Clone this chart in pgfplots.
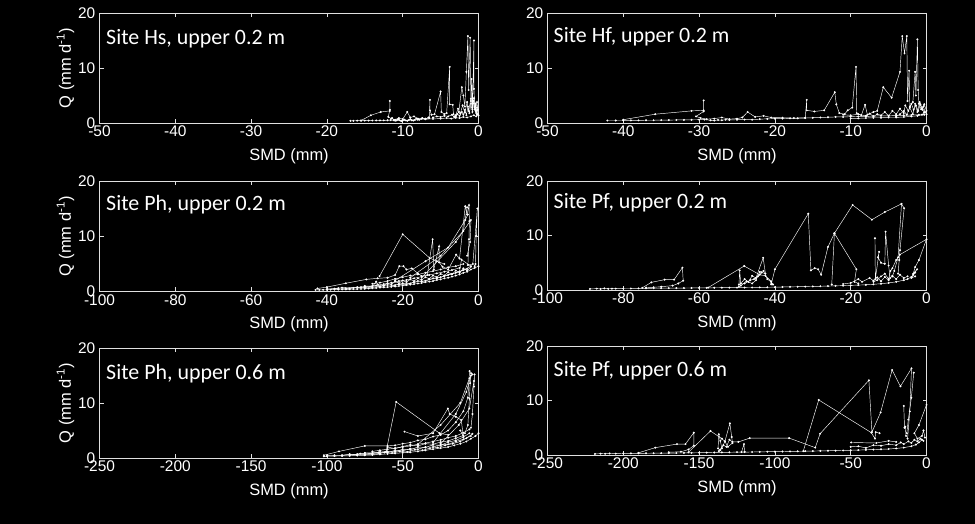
\documentclass[border=0pt]{standalone}
\usepackage{pgfplots}
\pgfplotsset{compat=1.18}
\usepackage{fontspec}
\setmainfont{Liberation Sans}
\newfontfamily\calibri{Carlito}

\pgfplotsset{
  panel/.style={
    scale only axis, width=379bp, height=110bp, anchor=south west,
    axis line style={white!88!black, line width=0.6pt},
    tick style={white!88!black, line width=0.6pt},
    major tick length=4bp,
    tick align=inside,
    ymin=0, ymax=20, ytick={0,10,20}, xmax=0,
    tick label style={text=white, font=\fontsize{15.5}{16}\selectfont},
    xticklabel style={anchor=north, inner sep=0pt, yshift=-3bp},
    yticklabel style={anchor=east, inner sep=0pt, xshift=-4bp},
    /pgf/number format/assume math mode=true,
    every axis plot post/.append style={white, solid, line width=0.45pt, mark=*, mark size=0.75pt, mark options={solid, fill=white, draw=white}},
  },
}
\tikzset{
  ttl/.style={anchor=base west, inner sep=0pt, text=white, font=\calibri\fontsize{22}{24}\selectfont},
  lbl/.style={inner sep=0pt, text=white, font=\fontsize{16.5}{18}\selectfont},
}

\begin{document}
\begin{tikzpicture}
\fill[black] (0,0) rectangle (975bp,524bp);

% ---------------- Panel 1: Hs 0.2 m
\begin{axis}[panel, name=p1, at={(99.5bp,401bp)}, xmin=-50, xtick={-50,-40,...,0}]
\addplot coordinates {(-16.9,0.40) (-16.5,0.40) (-16.0,0.42) (-15.5,0.42) (-15.0,0.43) (-14.5,0.44) (-14.0,0.45) (-13.5,0.46) (-13.0,0.47) (-12.5,0.48) (-12.0,0.50) (-11.6,0.52) (-11.2,0.50) (-10.8,0.48) (-10.4,0.50) (-10.0,0.45) (-9.6,0.48) (-9.2,0.52) (-8.8,0.50) (-8.4,0.55) (-8.0,0.60)};
\addplot coordinates {(-15.5,0.45) (-14.2,1.4) (-12.9,2.0) (-11.7,2.2) (-11.7,4.0) (-11.7,2.4) (-11.9,1.1) (-11.5,0.8) (-11.0,0.6) (-10.5,0.9) (-10.0,0.7) (-9.4,2.0) (-9.0,1.0) (-8.5,1.2) (-8.0,0.8) (-7.5,0.8) (-7.0,0.8) (-6.5,0.9) (-6.4,4.2) (-6.4,2.3) (-6.2,1.5) (-5.8,1.6) (-5.0,5.7) (-4.9,2.0) (-4.5,1.6) (-4.2,1.8) (-3.8,10.2) (-3.8,3.4) (-3.4,3.3) (-3.3,1.6) (-3.0,1.2) (-2.6,2.0) (-2.2,6.5) (-2.0,5.0) (-1.8,3.0) (-1.6,9.3) (-1.4,15.8) (-1.3,6.0) (-1.1,15.5) (-1.0,4.0) (-0.9,8.0) (-0.8,2.5) (-0.6,15.0) (-0.6,6.2) (-0.5,3.0) (-0.3,2.0) (-0.2,1.5)};
\addplot coordinates {(-6.0,1.0) (-5.5,1.2) (-5.0,1.1) (-4.5,1.3) (-4.0,1.2) (-3.5,1.5) (-3.2,1.1) (-2.8,1.6) (-2.5,1.3) (-2.2,2.0) (-2.0,1.5) (-1.8,2.4) (-1.6,1.4) (-1.4,3.0) (-1.2,1.8) (-1.0,3.5) (-0.8,2.0) (-0.7,4.0) (-0.5,2.5) (-0.4,3.5) (-0.3,1.8) (-0.2,2.8) (-0.1,1.6) (-0.3,1.2) (-0.6,1.4) (-1.0,1.2) (-1.5,1.0) (-2.0,1.1) (-2.5,0.9) (-3.0,0.95) (-3.6,0.8) (-4.2,0.9) (-5.0,0.8) (-6.0,0.75) (-7.0,0.7) (-8.0,0.65)};
\addplot coordinates {(-11.4,0.9) (-11.0,0.4) (-10.6,0.7) (-10.2,0.35) (-9.8,0.6) (-9.4,0.4) (-9.0,0.7) (-8.6,0.45) (-8.2,0.8) (-7.8,0.6) (-7.4,0.9) (-7.0,0.7) (-6.6,1.0)};
\addplot coordinates {(-3.0,1.4) (-2.7,2.6) (-2.4,1.7) (-2.1,3.2) (-1.8,1.9) (-1.5,3.8) (-1.3,2.2) (-1.0,4.4) (-0.8,2.8) (-0.6,4.5) (-0.4,2.2) (-0.2,3.8) (-0.1,2.4) (0,1.4)};
\end{axis}

% ---------------- Panel 2: Hf 0.2 m
\begin{axis}[panel, name=p2, at={(547.5bp,401bp)}, xmin=-50, xtick={-50,-40,...,0}]
\addplot coordinates {(-42.1,0.45) (-41,0.45) (-40,0.46) (-39,0.47) (-38,0.48) (-37,0.5) (-36,0.5) (-35,0.52) (-34,0.53) (-33,0.55) (-32,0.56) (-31,0.58) (-30,0.6) (-29.3,0.62) (-28.5,0.5) (-28,0.45) (-27.5,0.55) (-27,0.5) (-26.5,0.6) (-26,0.55) (-25,0.6) (-24,0.62) (-23,0.6) (-22,0.7) (-21,0.75) (-20,0.8) (-19,0.8) (-18,0.85) (-17,0.85) (-16,0.9) (-15,0.95) (-14,1.0) (-13,1.05) (-12,1.1) (-11,1.1) (-10,1.15) (-9,1.2) (-8,1.2) (-7,1.25) (-6,1.3) (-5,1.3) (-4,1.35) (-3,1.4) (-2,1.45) (-1,1.5) (-0.3,1.5)};
\addplot coordinates {(-40,0.6) (-35.8,1.6) (-31.0,2.2) (-29.4,2.3) (-29.4,4.1) (-29.4,2.1) (-30.4,1.2) (-29.8,0.9) (-29,0.7) (-28,0.8) (-27,1.0) (-26,0.7) (-25,0.8) (-24.3,1.0) (-23.6,2.0) (-22.6,1.1) (-21.5,1.3) (-20.5,1.0) (-19,0.95) (-17.5,0.9) (-16,0.95) (-15.8,4.2) (-15.8,2.3) (-14.8,2.1) (-13.5,2.3) (-12.1,5.6) (-11.9,3.4) (-11.5,1.8) (-10.8,1.6) (-10.4,2.3) (-9.8,2.8) (-9.3,10.2) (-9.2,1.8) (-8.6,1.4) (-8.1,3.3) (-7.8,1.5) (-7.0,2.0) (-6.5,2.2) (-5.7,6.5) (-4.6,4.6) (-3.5,9.3) (-3.2,15.8) (-2.9,12.7) (-2.6,15.8) (-2.5,4.0) (-2.3,9.5) (-2.2,3.0) (-1.8,3.8) (-1.5,9.3) (-1.4,5.0) (-1.2,15.2) (-1.1,6.0) (-1.0,3.5) (-0.7,2.5) (-0.4,3.0) (-0.2,2.0) (0,1.6)};
\addplot coordinates {(-11,1.5) (-10,1.4) (-9,1.6) (-8,1.3) (-7.5,1.7) (-7,1.2) (-6.5,1.6) (-6,1.4) (-5.5,2.0) (-5,1.3) (-4.5,2.2) (-4,1.6) (-3.5,2.6) (-3,1.8) (-2.8,3.2) (-2.4,2.2) (-2,3.5) (-1.7,2.4) (-1.4,3.2) (-1.1,2.2) (-0.8,3.4) (-0.5,2.4) (-0.3,1.9) (-0.6,1.5) (-1.2,1.3) (-2,1.2) (-3,1.1) (-4,1.0) (-5,1.0) (-6,0.95) (-7,0.95) (-8,0.9) (-9,0.85) (-10,0.85)};
\addplot coordinates {(-4,1.2) (-3.5,1.6) (-3,2.2) (-2.6,1.5) (-2.2,2.8) (-1.8,1.6) (-1.5,3.5) (-1.2,2.0) (-0.9,3.8) (-0.6,2.6) (-0.3,3.4) (0,2.2)};
\end{axis}

% ---------------- Panel 3: Ph 0.2 m
\begin{axis}[panel, name=p3, at={(99.5bp,232.5bp)}, xmin=-100, xtick={-100,-80,...,0}]
\addplot coordinates {(0,4.6) (-1,4.3) (-2,4.0) (-3,3.6) (-4,3.4) (-5,3.1) (-6,2.9) (-7,2.7) (-8,2.5) (-9,2.4) (-10,2.2) (-11,2.1) (-12,1.9) (-13,1.8) (-14,1.7) (-15,1.55) (-16,1.45) (-17,1.35) (-18,1.25) (-19,1.15) (-20,1.05) (-21,1.0) (-22,0.9) (-23,0.85) (-24,0.8) (-25,0.75) (-26,0.7) (-27,0.65) (-28,0.6) (-29,0.55) (-30,0.5) (-31,0.48) (-32,0.45) (-33,0.43) (-34,0.4) (-35,0.38) (-36,0.37) (-37,0.35) (-38,0.34) (-39,0.33) (-40,0.32) (-41,0.31) (-42,0.3) (-43,0.3)};
\addplot coordinates {(-42.5,0.55) (-40,0.8) (-35,1.5) (-29.6,2.2) (-26.6,2.4) (-24,2.5) (-22,3.0) (-20.9,4.6) (-19.8,4.6) (-19,4.0) (-17.6,4.2) (-16,3.3) (-15,2.8) (-13.5,3.0) (-12.1,9.5) (-11.8,4.0) (-10.4,8.2) (-10.4,5.3) (-9.5,4.5) (-8,4.0) (-5.9,6.7) (-5.0,6.0) (-3.5,15.5) (-3.0,14.0) (-2.5,15.7) (-2.4,12.8) (-2.5,9.5) (-2.8,4.8) (-1.5,5.0) (-0.3,15.1) (-0.6,10.2) (-0.8,5.0) (-1.0,4.6)};
\addplot coordinates {(-26.1,2.8) (-20.0,10.4) (-12.9,6.1) (-11,5.5) (-9,5.0)};
\addplot coordinates {(-22,2.0) (-14,5.5) (-8,8.0) (-3.5,13.0) (-2.8,14.0)};
\addplot coordinates {(-18,2.5) (-10,6.5) (-4,11) (-3,15.3)};
\addplot coordinates {(-15,2.5) (-6,9) (-2,13) (-2.2,9) (-3,6.5)};
\addplot coordinates {(-30,1.0) (-28,0.9) (-27,1.8) (-26.5,1.2) (-25,1.1) (-24,1.5) (-23,1.3) (-22,1.8) (-21,1.5) (-20,2.0) (-19,1.7) (-18,2.2) (-17,1.9) (-16,2.4) (-15,2.1) (-14,2.6) (-13,2.3) (-12,2.9) (-11,2.6) (-10,3.2) (-9,2.9) (-8,3.5) (-7,3.1) (-6,3.8) (-5,3.4) (-4,4.2) (-3,3.8) (-2,4.5)};
\addplot coordinates {(-35,0.6) (-32,0.8) (-30,0.7) (-28,1.0) (-26,0.95) (-24,1.2) (-22,1.15) (-20,1.5) (-18,1.45) (-16,1.9) (-14,1.9) (-12,2.4) (-10,2.6) (-8,3.0) (-6,3.4) (-4,3.9) (-2,4.6) (-4.5,5.8) (-5,3.6)};
\addplot coordinates {(-40,0.45) (-37,0.6) (-34,0.55) (-31,0.8) (-28,0.75) (-25,1.0) (-23,1.0) (-21,1.3) (-19,1.3) (-17,1.7) (-15,1.8) (-13,2.2) (-11,2.4) (-9,2.8) (-7,3.2) (-5,3.6) (-3,4.1)};
\addplot coordinates {(-38,0.5) (-36,0.7) (-33,0.65) (-30,0.9) (-27,1.1) (-25,1.35) (-23,1.6) (-21,1.9) (-19,2.1) (-17,2.4) (-15,2.7) (-13,3.0) (-11,3.3) (-9,3.6) (-7,3.9) (-5,4.3)};
\addplot coordinates {(-28,1.4) (-26,1.6) (-24,1.9) (-22,2.3) (-20,2.6) (-18,2.9) (-16,3.1) (-14,3.4) (-12,3.7) (-10,4.0) (-8,4.4) (-6,4.6) (-4,5.0)};
\end{axis}

% ---------------- Panel 4: Pf 0.2 m
\begin{axis}[panel, name=p4, at={(547.5bp,234bp)}, height=109bp, xmin=-100, xtick={-100,-80,...,0}]
\addplot coordinates {(-88.8,0.2) (-87,0.25) (-86,0.2) (-85,0.3) (-84,0.22) (-83,0.25) (-82,0.25) (-80,0.27) (-78,0.28) (-76,0.3) (-74,0.3) (-72,0.32) (-70,0.33) (-68,0.34) (-66,0.35) (-64,0.36) (-62,0.37) (-60,0.38) (-58,0.4) (-56,0.41) (-54,0.42) (-52,0.43) (-50,0.44) (-48,0.45) (-46,0.46) (-44,0.48) (-42,0.5) (-40,0.52) (-38,0.55) (-36,0.58) (-34,0.6) (-32,0.62) (-30,0.65) (-28,0.68) (-26,0.72) (-24,0.76) (-22,0.8) (-20,0.85) (-18,0.9) (-16,0.95) (-14,1.05) (-12,1.15) (-10,1.3) (-8,1.5) (-6,1.8) (-5,2.0) (-4,2.4) (-3.5,2.8) (-3,3.2)};
\addplot coordinates {(-75,0.4) (-72.6,1.4) (-69.1,1.9) (-66.6,1.9) (-64.4,4.1) (-64.2,1.7) (-65.5,1.2) (-67,0.8) (-70,0.6) (-72,0.5) (-74,0.45)};
\addplot coordinates {(-57.6,0.45) (-48.1,4.4) (-44,2.8) (-42.5,2.6) (-41,1.6) (-40.9,1.2)};
\addplot coordinates {(-49.5,0.6) (-49.3,3.6) (-49,1.2) (-48,2.0) (-47,1.5) (-46,2.6) (-45,2.2) (-43.1,5.9) (-42.5,3.0) (-43.5,3.2) (-44.5,2.5) (-45.5,2.0) (-46.5,1.8) (-48,1.2) (-49.5,1.0)};
\addplot coordinates {(-49,0.8) (-47.5,1.6) (-46,1.2) (-45,1.8) (-44,3.3) (-43,3.5) (-42,2.0) (-41,1.5) (-40.5,1.0)};
\addplot coordinates {(-41,1.0) (-40,3.8) (-31.2,14.0) (-30.5,3.6) (-29.5,4.0) (-28.6,3.8) (-27.8,2.8) (-26,7.9) (-24.3,10.4) (-19.5,15.6) (-14.4,12.9) (-11,14.3) (-6.6,15.8) (-7.5,6.0) (-8.5,3.5) (-9,2.5)};
\addplot coordinates {(-24.3,10.4) (-25,1.0)};
\addplot coordinates {(-24.3,10.4) (-18.5,3.8) (-19,1.5) (-18,1.2)};
\addplot coordinates {(-13.6,9.5) (-13.5,2.0) (-12.5,7.0) (-12.8,6.0) (-12,5.0) (-11,4.8) (-10.8,10.7) (-10,4.5) (-9.6,2.2)};
\addplot coordinates {(-6.6,15.8) (-5.9,15.0) (-7.0,7.3) (-7.2,5.5) (-7.5,3.0)};
\addplot coordinates {(-14,1.5) (-13,1.8) (-12,2.5) (-11,3.0) (-10,2.0) (-9.5,3.5) (-9,4.0) (-8,5.5) (-7,6.5) (0,9.3) (-2,5.5) (-3,4.2) (-3.5,3.0) (-2.5,3.8) (-4,2.2) (-3,2.5)};
\addplot coordinates {(-22,1.1) (-20,1.3) (-18,2.0) (-17,1.5) (-15,2.2) (-14,1.7) (-13,2.3) (-12,1.6) (-11,2.4) (-10,1.8) (-9,2.6) (-8,2.0) (-7,2.8) (-6,2.2) (-5,2.5)};
\end{axis}

% ---------------- Panel 5: Ph 0.6 m
\begin{axis}[panel, name=p5, at={(99.5bp,66bp)}, xmin=-250, xtick={-250,-200,...,0}]
\addplot coordinates {(0,4.5) (-2,4.0) (-5,3.5) (-8,3.0) (-12,2.6) (-16,2.3) (-20,2.0) (-25,1.8) (-30,1.6) (-35,1.4) (-40,1.2) (-45,1.05) (-50,0.95) (-55,0.85) (-60,0.75) (-65,0.65) (-70,0.55) (-75,0.5) (-80,0.45) (-85,0.4) (-90,0.38) (-95,0.35) (-100,0.32) (-102,0.3)};
\addplot coordinates {(-102,0.5) (-92,1.2) (-75,2.2) (-60,2.2) (-55,2.3) (-50,2.6) (-45,2.8) (-40,3.2) (-35,3.4) (-30,3.9) (-25,4.2) (-20,5.0) (-15,6.5) (-10,8.5) (-7,11.0) (-5.9,15.8) (-4.8,15.4) (-5.5,13.6) (-6,10.8) (-7,6.0) (-9,4.5)};
\addplot coordinates {(-75,0.9) (-66,1.0) (-60.9,1.2) (-54.3,10.2) (-25.7,4.5) (-20,4.2)};
\addplot coordinates {(-48.8,4.8) (-40,4.0) (-30,4.5) (-20.2,9.0) (-19,8.0) (-15,7.5) (-11.4,6.9) (-10,4.0) (-12,5.0)};
\addplot coordinates {(-40,2.5) (-25,6) (-12,10) (-6,14.5) (-4,15.2)};
\addplot coordinates {(-30,2.8) (-15,8) (-8,12) (-5,15)};
\addplot coordinates {(-25,2.6) (-13,6) (-6,9) (-3,14) (-2.6,15.2) (-3,13) (-4,8) (-5,5.5)};
\addplot coordinates {(-90,0.5) (-85,0.7) (-80,0.6) (-75,0.9) (-70,0.8) (-65,1.1) (-60,1.0) (-55,1.4) (-50,1.3) (-45,1.7) (-40,1.6) (-35,2.0) (-30,2.0) (-25,2.4) (-20,2.5) (-15,3.0) (-10,3.4) (-5,4.0)};
\addplot coordinates {(-85,0.5) (-78,0.8) (-70,0.6) (-62,1.0) (-57,0.9) (-52,1.2) (-47,1.1) (-42,1.5) (-37,1.4) (-32,1.8) (-27,1.9) (-22,2.3) (-17,2.6) (-12,3.0) (-8,3.6) (-4,4.4)};
\addplot coordinates {(-100,0.4) (-95,0.5) (-90,0.45) (-85,0.6) (-80,0.7) (-75,0.65) (-70,0.9) (-65,0.85) (-60,1.2) (-55,1.15) (-50,1.6) (-45,1.5) (-40,2.0) (-35,1.9) (-30,2.4) (-25,2.3) (-20,2.9) (-15,3.2) (-10,3.8) (-6,4.5)};
\addplot coordinates {(-70,1.2) (-65,1.4) (-60,1.6) (-55,1.8) (-50,2.0) (-45,2.2) (-40,2.5) (-35,2.7) (-30,3.0) (-25,3.3) (-20,3.7) (-15,4.0) (-10,4.6) (-6,5.2)};
\addplot coordinates {(-60,2.0) (-55,1.7) (-50,2.1) (-45,2.4) (-40,2.2) (-35,2.6) (-30,2.5) (-25,2.9) (-20,3.1) (-15,3.6) (-10,4.1)};
\end{axis}

% ---------------- Panel 6: Pf 0.6 m
\begin{axis}[panel, name=p6, at={(547.5bp,69bp)}, height=109bp, xmin=-250, xtick={-250,-200,...,0}]
\addplot coordinates {(-218.7,0.2) (-215,0.25) (-212,0.22) (-209,0.28) (-205,0.25) (-200,0.28) (-195,0.3) (-190,0.3) (-185,0.32) (-180,0.33) (-175,0.34) (-170,0.35) (-165,0.36) (-160,0.38) (-155,0.4) (-150,0.42) (-145,0.44) (-140,0.46) (-135,0.48) (-130,0.5) (-125,0.52) (-120,0.54) (-115,0.55) (-110,0.57) (-105,0.6) (-100,0.62) (-95,0.64) (-90,0.66) (-85,0.68) (-80,0.7) (-75,0.72) (-70,0.75) (-65,0.78) (-60,0.8) (-55,0.83) (-50,0.87) (-45,0.9) (-40,0.95) (-35,1.0) (-30,1.05) (-25,1.1) (-20,1.2) (-15,1.35) (-10,1.6) (-7,1.9) (-5,2.3) (-3,2.8)};
\addplot coordinates {(-190,0.4) (-178.9,1.35) (-164.6,2.0) (-159,2.0) (-153.5,4.1) (-153.5,1.7) (-157,1.0) (-162,0.6) (-170,0.5)};
\addplot coordinates {(-157,0.5) (-142.5,4.4) (-135,3.0) (-133,2.5) (-129.7,5.8) (-128.5,3.3) (-128,2.2) (-131,1.5) (-133,2.5) (-135,1.2) (-136,2.6) (-137,3.8) (-137.5,1.2) (-136,0.9)};
\addplot coordinates {(-137,0.7) (-134,1.8) (-132,1.5) (-130,2.8) (-128,2.4) (-124.1,2.4) (-116.6,3.1) (-90.6,3.1) (-73.4,1.35) (-70.2,3.9) (-38,13.7) (-36,4.2) (-30.3,7.8) (-22.7,15.6) (-17.2,12.6) (-9.9,15.9) (-11,8.0) (-12.5,3.0)};
\addplot coordinates {(-81.3,0.7) (-71.1,10.1) (-36.4,4.1) (-34,3.0) (-33.5,4.2) (-31,4.0)};
\addplot coordinates {(-8.4,15.1) (-10,10.5) (-12,6.5) (-13,4.0)};
\addplot coordinates {(-15,9.0) (-14.5,5.0) (-14,5.2) (-13.5,3.5)};
\addplot coordinates {(0,9.2) (-5,5.5) (-8,4.0) (-6,3.0) (-3,3.5) (-2,4.5) (-1,3.2)};
\addplot coordinates {(-122,0.55) (-120.4,2.0) (-120,0.6)};
\addplot coordinates {(-49.7,2.3) (-33.1,2.2) (-25,2.6) (-20,2.4)};
\addplot coordinates {(-50,1.5) (-45,1.6) (-40,1.3) (-35,1.8) (-30,1.7) (-25,2.0) (-20,1.8) (-17,2.3) (-15,2.0) (-12,2.5) (-10,2.2) (-8,2.8) (-6,2.5) (-4,3.0) (-2,2.6)};
\end{axis}

% ---------------- titles and labels
\node[ttl] at ([xshift=6.5bp,yshift=-32bp]p1.north west) {Site Hs, upper 0.2 m};
\node[ttl] at ([xshift=6bp,yshift=-30bp]p2.north west) {Site Hf, upper 0.2 m};
\node[ttl] at ([xshift=6.5bp,yshift=-29bp]p3.north west) {Site Ph, upper 0.2 m};
\node[ttl] at ([xshift=6bp,yshift=-28bp]p4.north west) {Site Pf, upper 0.2 m};
\node[ttl] at ([xshift=6.5bp,yshift=-31bp]p5.north west) {Site Ph, upper 0.6 m};
\node[ttl] at ([xshift=6bp,yshift=-31bp]p6.north west) {Site Pf, upper 0.6 m};

\foreach \p in {p1,p2,p3,p4,p5,p6}{
  \node[lbl, anchor=north] at ([yshift=-25bp]\p.south) {SMD (mm)};
}
\foreach \p in {p1,p3,p5}{
  \node[lbl, rotate=90, anchor=center] at ([xshift=-34bp]\p.west) {Q (mm d\textsuperscript{-1})};
}

\pgfresetboundingbox
\path[use as bounding box] (0,0) rectangle (975bp,524bp);
\end{tikzpicture}
\end{document}
